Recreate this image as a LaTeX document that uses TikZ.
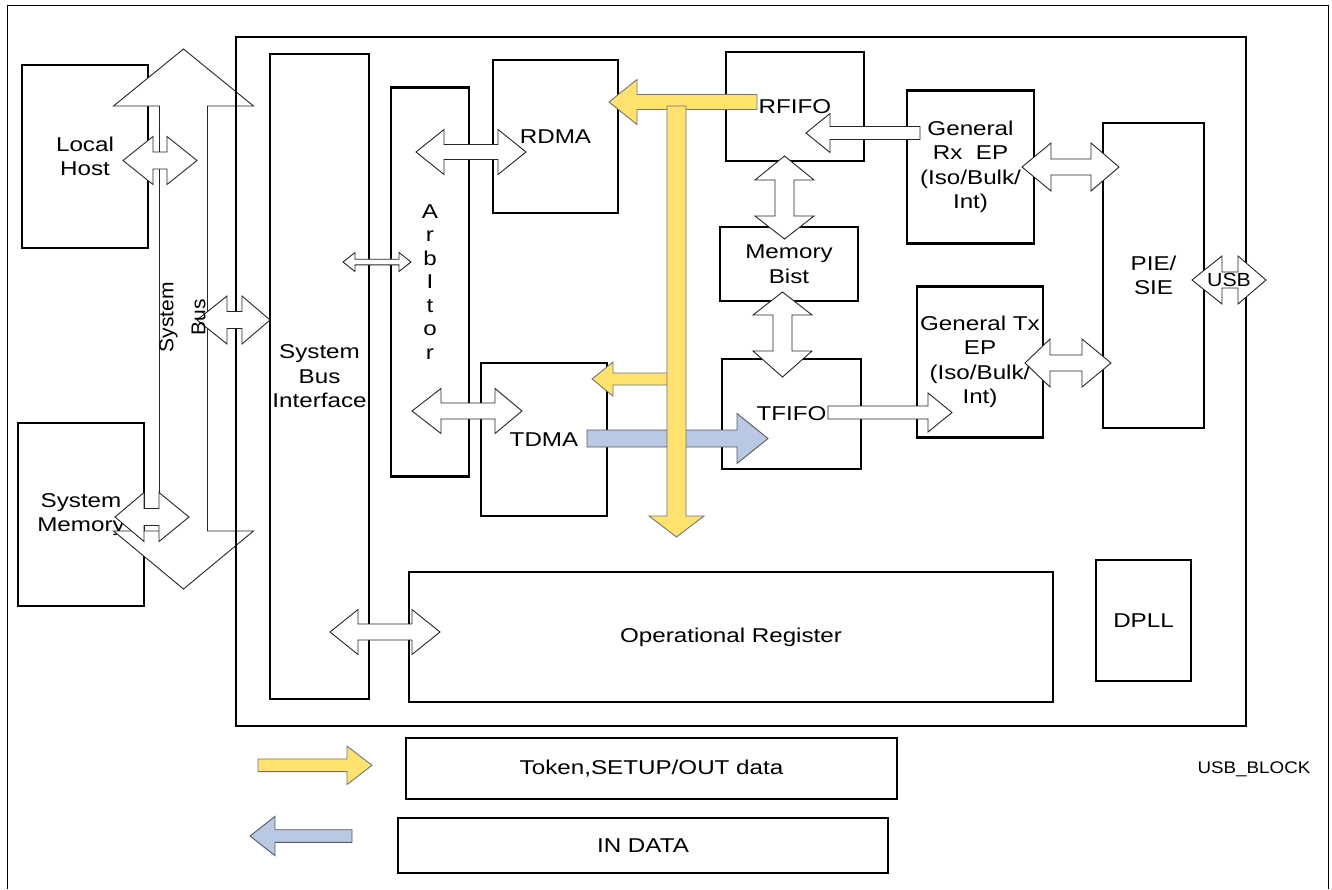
\documentclass[tikz,border=0pt]{standalone}
\usepackage{fontspec}
\setmainfont{Liberation Sans}[FakeStretch=1.21]
\newfontfamily\rotfont{Liberation Sans}[FakeStretch=1.05]
\newfontfamily\tagfont{Liberation Sans}[FakeStretch=1.12]
\definecolor{arrYellow}{HTML}{FFE36E}
\definecolor{arrBlue}{HTML}{B9C9E3}
% style, cy, x1tip, x1back, x2back, x2tip, hh, sh
\newcommand\DArrH[8]{\draw[#1] (#3,#2) -- (#4,{#2-#7}) -- (#4,{#2-#8}) -- (#5,{#2-#8}) -- (#5,{#2-#7}) -- (#6,#2) -- (#5,{#2+#7}) -- (#5,{#2+#8}) -- (#4,{#2+#8}) -- (#4,{#2+#7}) -- cycle;}
% style, cx, y1tip, y1back, y2back, y2tip, hh, sh
\newcommand\DArrV[8]{\draw[#1] (#2,#3) -- ({#2+#7},#4) -- ({#2+#8},#4) -- ({#2+#8},#5) -- ({#2+#7},#5) -- (#2,#6) -- ({#2-#7},#5) -- ({#2-#8},#5) -- ({#2-#8},#4) -- ({#2-#7},#4) -- cycle;}
% style, cy, tail, back, tip, hh, sh
\newcommand\SArrH[7]{\draw[#1] (#3,{#2-#7}) -- (#4,{#2-#7}) -- (#4,{#2-#6}) -- (#5,#2) -- (#4,{#2+#6}) -- (#4,{#2+#7}) -- (#3,{#2+#7}) -- cycle;}
% style, cx, tail, back, tip, hh, sh
\newcommand\SArrV[7]{\draw[#1] ({#2-#7},#3) -- ({#2-#7},#4) -- ({#2-#6},#4) -- (#2,#5) -- ({#2+#6},#4) -- ({#2+#7},#4) -- ({#2+#7},#3) -- cycle;}
\begin{document}
\begin{tikzpicture}[x=1pt,y=-1pt,
  box/.style={draw=black, line width=2.4pt, inner sep=0pt, align=center, font=\fontsize{20}{24.5}\selectfont},
  barrow/.style={draw=black!85, line width=0.9pt, fill=white, line join=miter},
  yarrow/.style={draw=black!55, line width=0.9pt, fill=arrYellow, line join=miter},
  blarrow/.style={draw=black!65, line width=0.9pt, fill=arrBlue, line join=miter}]
\useasboundingbox (0,0) rectangle (1332,889);
\fill[white] (0,0) rectangle (1332,889);
% outer thin frame
\draw[line width=1pt] (7,889) -- (7,5) -- (1328,5) -- (1328,889);
% external boxes
\node[box, minimum width=126pt, minimum height=183pt] (lhost) at (85,156.5) {Local\\Host};
\node[box, minimum width=126pt, minimum height=183pt] (smem) at (81,514.5) {System\\Memory};
% system bus arrow
\DArrV{barrow}{183.5}{49}{106}{531}{589}{70}{24}
% main frame
\draw[line width=2.4pt] (236,37) rectangle (1246,726);
% inner boxes
\node[box, minimum width=99pt, minimum height=645pt] (sbi) at (319.5,376.5) {System\\Bus\\Interface};
\node[box, minimum width=78pt, minimum height=389pt, font=\fontsize{20}{23.5}\selectfont] (arb) at (430,282) {A\\r\\b\\I\\t\\o\\r};
\node[box, minimum width=125pt, minimum height=153pt] (rdma) at (555.5,136.5) {RDMA};
\node[box, minimum width=138pt, minimum height=109pt] (rfifo) at (795,106.5) {RFIFO};
\node[box, minimum width=138pt, minimum height=74pt] (mbist) at (789,264) {Memory\\Bist};
\node[box, minimum width=126pt, minimum height=153pt] (tdma) at (544,439.5) {TDMA};
\node[box, minimum width=139pt, minimum height=110pt] (tfifo) at (791.5,414) {TFIFO};
\node[box, minimum width=127pt, minimum height=153pt] (rxep) at (970.5,167) {General\\Rx\ \ EP\\(Iso/Bulk/\\Int)};
\node[box, minimum width=126pt, minimum height=151pt] (txep) at (980,362) {General Tx\\EP\\(Iso/Bulk/\\Int)};
\node[box, minimum width=101pt, minimum height=305pt] (pie) at (1153.5,275.5) {PIE/\\SIE};
\node[box, minimum width=644pt, minimum height=130pt] (opreg) at (731,637) {Operational Register};
\node[box, minimum width=95pt, minimum height=121pt] (dpll) at (1143.5,620.5) {DPLL};
% data path arrows
\SArrH{blarrow}{438.5}{587}{737}{768}{25}{8.5}
\SArrH{yarrow}{379}{676}{613}{592}{17}{6}
\SArrH{yarrow}{102}{757}{637}{609}{22.5}{7.5}
\SArrV{yarrow}{676.5}{106}{516}{537}{27.5}{9.5}
% single white arrows
\SArrH{barrow}{133}{920}{830}{806}{19.5}{6.5}
\SArrH{barrow}{412.5}{828}{928}{952}{19.5}{6.5}
% double white arrows
\DArrH{barrow}{160.5}{123}{153}{167}{197}{24}{8.5}
\DArrH{barrow}{517}{115}{144}{159}{189}{24.5}{8.5}
\DArrH{barrow}{320}{197}{227}{242}{270}{24}{8.5}
\DArrH{barrow}{262}{343}{355}{399}{411}{9.5}{2.8}
\DArrH{barrow}{152}{416}{444}{498}{526}{22.5}{7.5}
\DArrH{barrow}{411}{412}{441}{495}{522}{22.5}{8}
\DArrH{barrow}{632}{330}{358}{412}{440}{22.5}{8}
\DArrV{barrow}{784.5}{156}{180}{216}{239}{29.5}{9.5}
\DArrV{barrow}{782.5}{292}{315}{351}{377}{29.5}{9.5}
\DArrH{barrow}{167}{1022}{1051}{1091}{1119}{24}{8}
\DArrH{barrow}{363}{1025}{1050}{1082}{1111}{24}{8}
\DArrH{barrow}{280}{1192}{1222}{1238}{1266}{24}{8}
\node[inner sep=0pt, font=\tagfont\fontsize{19}{22}\selectfont] (usbl) at (1229,280) {USB};
\node[inner sep=0pt, rotate=90, align=center, font=\rotfont\fontsize{20}{32}\selectfont] (busl) at (182.5,317) {System\\Bus};
% legend
\SArrH{yarrow}{765.3}{258}{347}{372}{19.2}{6.3}
\SArrH{blarrow}{836}{352}{275}{250}{19.7}{6.3}
\node[box, minimum width=491pt, minimum height=61pt] (leg1) at (651.5,768.5) {Token,SETUP/OUT data};
\node[box, minimum width=490pt, minimum height=55pt] (leg2) at (643,845.5) {IN DATA};
\node[inner sep=0pt, font=\tagfont\fontsize{16.8}{20}\selectfont] (tag) at (1254,769) {USB\_BLOCK};
\end{tikzpicture}
\end{document}
